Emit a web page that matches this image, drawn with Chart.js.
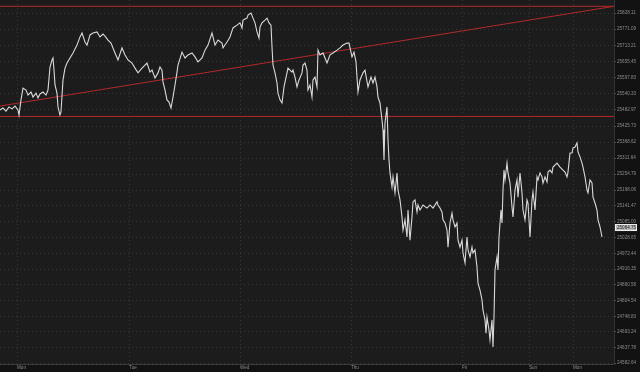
<!DOCTYPE html>
<html>
<head>
<meta charset="utf-8">
<script src="https://cdn.jsdelivr.net/npm/chart.js@4/dist/chart.umd.min.js"></script>
<style>
  html, body { margin: 0; padding: 0; background: #141414; }
  #wrap { width: 640px; height: 372px; position: relative; }
</style>
</head>
<body>
<div id="wrap"><canvas id="chart"></canvas></div>
<script>
// bar number (session bars, left to right) and last traded price
const bars = [
  0, 3, 6, 9, 12, 15, 18, 19, 21, 23, 26, 28, 31, 33, 36, 38, 40, 43, 46, 48,
  50, 52, 53, 54, 55, 57, 58, 60, 61, 63, 65, 67, 70, 73, 77, 80, 82, 85, 87, 90,
  93, 97, 100, 103, 105, 108, 111, 115, 118, 122, 125, 128, 132, 135, 138, 142, 147, 150, 152, 155,
  158, 160, 162, 163, 165, 167, 169, 171, 173, 175, 177, 178, 182, 185, 188, 192, 195, 198, 202, 205,
  208, 212, 213, 215, 218, 222, 223, 227, 230, 233, 237, 240, 242, 243, 247, 248, 251, 253, 255, 257,
  259, 260, 262, 265, 267, 269, 271, 272, 273, 275, 277, 278, 280, 282, 284, 287, 288, 292, 293, 295,
  297, 299, 302, 303, 305, 307, 308, 310, 312, 313, 315, 317, 318, 320, 323, 327, 330, 333, 337, 340,
  343, 347, 349, 352, 354, 356, 357, 358, 360, 363, 365, 368, 371, 373, 375, 377, 378, 380, 382, 383,
  384, 385, 387, 388, 389, 390, 392, 393, 395, 397, 398, 400, 402, 403, 405, 407, 408, 410, 412, 413,
  415, 417, 418, 420, 423, 427, 430, 433, 437, 438, 440, 442, 443, 445, 447, 448, 450, 452, 453, 455,
  457, 458, 460, 462, 463, 465, 467, 468, 470, 472, 473, 475, 477, 478, 480, 482, 483, 485, 486, 487,
  489, 490, 492, 493, 494, 495, 497, 498, 499, 501, 502, 503, 504, 505, 507, 508, 510, 512, 513, 515,
  517, 518, 520, 522, 523, 525, 527, 528, 530, 532, 533, 535, 537, 538, 540, 542, 543, 545, 547, 548,
  550, 552, 553, 557, 560, 563, 565, 567, 568, 570, 572, 573, 575, 577, 578, 580, 582, 583, 585, 587,
  588, 590, 592, 593, 595, 597, 598, 600, 602
];
const prices = [
  25483, 25490, 25479, 25494, 25487, 25497, 25483, 25465, 25519, 25561, 25554, 25536, 25547, 25529, 25543, 25526, 25540, 25547, 25536, 25554,
  25636, 25661, 25668, 25625, 25572, 25543, 25494, 25465, 25476, 25590, 25632, 25650, 25668, 25686, 25714, 25743, 25757, 25725, 25714, 25750,
  25757, 25761, 25743, 25753, 25746, 25732, 25721, 25686, 25661, 25704, 25679, 25661, 25650, 25632, 25615, 25632, 25650, 25618, 25625, 25597,
  25615, 25636, 25625, 25583, 25554, 25519, 25511, 25490, 25529, 25572, 25618, 25643, 25689, 25668, 25679, 25686, 25672, 25654, 25668, 25696,
  25714, 25757, 25743, 25714, 25732, 25721, 25704, 25725, 25743, 25775, 25785, 25793, 25775, 25803, 25810, 25821, 25828, 25810, 25793, 25761,
  25739, 25778, 25793, 25803, 25810, 25793, 25785, 25707, 25643, 25615, 25579, 25543, 25519, 25508, 25565, 25615, 25632, 25618, 25625, 25600,
  25565, 25590, 25615, 25643, 25650, 25625, 25554, 25572, 25529, 25590, 25600, 25565, 25696, 25679, 25686, 25650, 25679, 25686, 25696, 25704,
  25714, 25721, 25721, 25672, 25689, 25654, 25600, 25547, 25590, 25615, 25625, 25565, 25600, 25579, 25600, 25565, 25529, 25508, 25447, 25412,
  25305, 25437, 25494, 25376, 25305, 25259, 25209, 25245, 25188, 25259, 25198, 25163, 25102, 25056, 25092, 25031, 25127, 25020, 25102, 25156,
  25163, 25120, 25145, 25127, 25145, 25134, 25145, 25134, 25156, 25145, 25134, 25120, 25092, 25081, 25056, 24995, 25081, 25116, 25092, 25067,
  25081, 25020, 24995, 25020, 24974, 24939, 25031, 24985, 24960, 24995, 24974, 24985, 24924, 24867, 24842, 24807, 24771, 24736, 24689, 24746,
  24700, 24665, 24736, 24640, 24746, 24914, 24960, 24914, 25031, 25127, 25081, 25198, 25269, 25234, 25294, 25259, 25223, 25138, 25102, 25198,
  25234, 25173, 25259, 25188, 25127, 25092, 25163, 25152, 25031, 25163, 25191, 25127, 25245, 25234, 25259, 25245, 25223, 25245, 25227, 25262,
  25269, 25259, 25280, 25294, 25280, 25269, 25262, 25245, 25262, 25330, 25330, 25348, 25351, 25366, 25334, 25316, 25294, 25280, 25245, 25198,
  25188, 25234, 25223, 25173, 25152, 25127, 25092, 25067, 25031
];

// drawn levels
const resistance = 25852;
const support = 25460;
const trendStart = 25497;
const trendEnd = 25852;
const lastPrice = 25064.75;

// axis labels
const dayBars = [17, 129, 240, 351, 462, 529, 573];
const dayLabels = ["Mon", "Tue", "Wed", "Thu", "Fri", "Sun", "Mon"];
const priceTicks = [
  25828.11, 25771.09, 25713.21, 25655.45, 25597.83, 25540.33, 25482.97, 25425.73,
  25368.62, 25311.64, 25254.79, 25198.06, 25141.47, 25085.00, 25028.65, 24972.44,
  24916.35, 24860.58, 24804.54, 24748.83, 24693.24, 24637.78, 24582.64
];

const xMin = 0, xMax = 614;
const yMin = 24579.1, yMax = 25874.4;

const red = "#b3292b";
const tickFont = { family: "Liberation Sans", size: 4.6 };

const bgPlugin = {
  id: "bg",
  beforeDraw(chart) {
    const { ctx, chartArea: a } = chart;
    ctx.save();
    ctx.fillStyle = "#121212";
    ctx.fillRect(0, 0, chart.width, chart.height);
    ctx.fillStyle = "#1c1c1c";
    ctx.fillRect(a.left, a.top, a.right - a.left, a.bottom - a.top);
    ctx.restore();
  },
  afterDraw(chart) {
    const { ctx, chartArea: a } = chart;
    const y = chart.scales.y.getPixelForValue(lastPrice);
    ctx.save();
    ctx.fillStyle = "#bdbdbd";
    ctx.strokeStyle = "#eeeeee";
    ctx.lineWidth = 1;
    ctx.fillRect(a.right + 1, y - 3.5, 22, 7);
    ctx.strokeRect(a.right + 1.5, y - 3, 21, 6);
    ctx.fillStyle = "#1a1a1a";
    ctx.font = "4.6px 'Liberation Sans'";
    ctx.textBaseline = "middle";
    ctx.fillText(lastPrice.toFixed(2), a.right + 3, y + 0.5);
    ctx.restore();
  }
};

const ctx = document.getElementById("chart").getContext("2d");
new Chart(ctx, {
  type: "line",
  data: {
    datasets: [
      {
        data: bars.map((b, i) => ({ x: b, y: prices[i] })),
        borderColor: "rgba(228,228,228,0.95)",
        borderWidth: 1.1,
        pointRadius: 0,
        tension: 0,
      },
      {
        data: [{ x: xMin, y: resistance }, { x: xMax, y: resistance }],
        borderColor: red, borderWidth: 1, pointRadius: 0,
      },
      {
        data: [{ x: xMin, y: support }, { x: xMax, y: support }],
        borderColor: red, borderWidth: 1, pointRadius: 0,
      },
      {
        data: [{ x: xMin, y: trendStart }, { x: xMax, y: trendEnd }],
        borderColor: red, borderWidth: 1, pointRadius: 0,
      },
    ],
  },
  options: {
    animation: false,
    responsive: true,
    maintainAspectRatio: false,
    layout: { padding: 0 },
    plugins: { legend: { display: false }, tooltip: { enabled: false } },
    scales: {
      x: {
        type: "linear",
        min: xMin,
        max: xMax,
        afterFit: (s) => { s.height = 8; s.paddingLeft = 0; s.paddingRight = 0; },
        afterBuildTicks: (s) => { s.ticks = dayBars.map((v) => ({ value: v })); },
        ticks: {
          autoSkip: false,
          maxRotation: 0,
          align: "start",
          padding: 1,
          color: "#8c8c8c",
          font: tickFont,
          callback: (v, i) => dayLabels[i],
        },
        grid: { color: "#363636", drawTicks: false },
        border: { display: true, color: "#3c3c3c", dash: [1, 3] },
      },
      y: {
        type: "linear",
        position: "right",
        min: yMin,
        max: yMax,
        afterFit: (s) => { s.width = 26; s.paddingTop = 0; s.paddingBottom = 0; },
        afterBuildTicks: (s) => { s.ticks = priceTicks.map((v) => ({ value: v })); },
        ticks: {
          autoSkip: false,
          padding: 1,
          color: "#8c8c8c",
          font: tickFont,
          callback: (v) => v.toFixed(2),
        },
        grid: {
          color: "#363636",
          tickLength: 2,
          tickColor: "#555555",
          tickBorderDash: [],
        },
        border: { display: true, color: "#333333", dash: [1, 3] },
      },
    },
  },
  plugins: [bgPlugin],
});
</script>
</body>
</html>
